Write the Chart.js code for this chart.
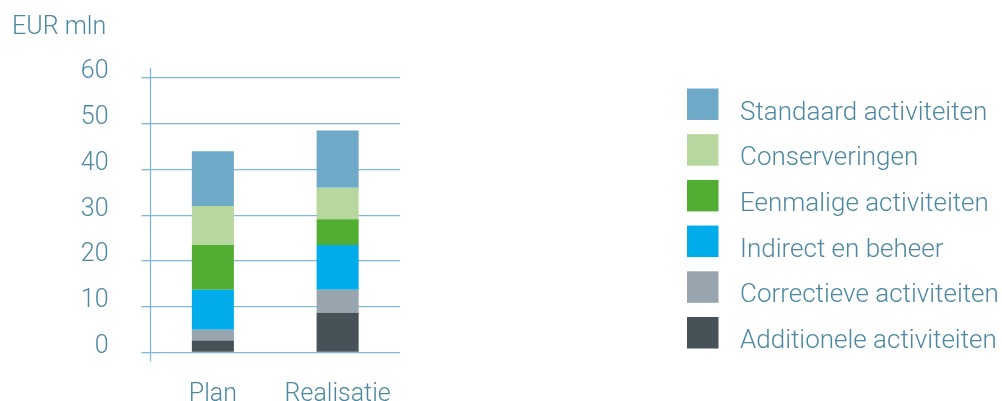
<!DOCTYPE html>
<html>
<head>
<meta charset="utf-8">
<script src="https://cdn.jsdelivr.net/npm/chart.js@4"></script>
<style>
html,body{margin:0;padding:0;background:#fff;}
#wrap{width:1002px;height:401px;position:relative;}
</style>
</head>
<body>
<div id="wrap"><canvas id="c" width="1002" height="401"></canvas></div>
<script>
const categories = ['Plan', 'Realisatie'];
const seriesNames = ['Additionele activiteiten', 'Correctieve activiteiten', 'Indirect en beheer', 'Eenmalige activiteiten', 'Conserveringen', 'Standaard activiteiten'];
const additionele = [2.6, 8.7];
const correctieve = [2.4, 5.0];
const indirect = [8.7, 9.8];
const eenmalige = [9.8, 5.6];
const conserveringen = [8.5, 6.9];
const standaard = [12.0, 12.5];
const yTicks = [0, 10, 20, 30, 40, 50, 60];
const unitLabel = 'EUR mln';

const colors = ['#475158', '#98a5ae', '#00acea', '#52ae32', '#b8d79e', '#6eaac8'];
const values = [additionele, correctieve, indirect, eenmalige, conserveringen, standaard];
const TEXT = '#4d88a2';
const GRID = '#80b8d5';
const FONT = 'Roboto, "Liberation Sans", sans-serif';

const axisLine = {
  id: 'axisLine',
  beforeDatasetsDraw(chart) {
    const {ctx, chartArea} = chart;
    ctx.save();
    ctx.strokeStyle = GRID;
    ctx.lineWidth = 1.3;
    ctx.beginPath();
    ctx.moveTo(chartArea.left, chartArea.top - 10);
    ctx.lineTo(chartArea.left, chartArea.bottom + 9);
    ctx.stroke();
    ctx.restore();
  }
};

const customLegend = {
  id: 'customLegend',
  afterDraw(chart) {
    const {ctx} = chart;
    const ds = chart.data.datasets.slice().reverse();
    const x0 = 687, y0 = 88.5, row = 45.7, box = 31.5, tx = 740;
    ctx.save();
    ctx.font = '300 26px ' + FONT;
    ctx.textAlign = 'left';
    ctx.textBaseline = 'alphabetic';
    ds.forEach((d, i) => {
      const y = y0 + i * row;
      ctx.fillStyle = d.backgroundColor;
      ctx.fillRect(x0, y, box, box);
      ctx.fillStyle = TEXT;
      ctx.fillText(d.label, tx, y + box - 0.5);
    });
    ctx.restore();
  }
};

new Chart(document.getElementById('c'), {
  type: 'bar',
  data: {
    labels: categories,
    datasets: seriesNames.map((n, i) => ({
      label: n,
      data: values[i],
      backgroundColor: colors[i],
      borderWidth: 0,
      barPercentage: 0.337,
      categoryPercentage: 1
    }))
  },
  options: {
    responsive: false,
    animation: false,
    devicePixelRatio: 1,
    layout: { padding: { left: 12, right: 602, top: 0, bottom: 0 } },
    plugins: {
      legend: { display: false },
      tooltip: { enabled: false },
      title: {
        display: true,
        text: unitLabel,
        align: 'start',
        color: TEXT,
        font: { family: FONT, size: 25, weight: 300 },
        padding: { top: 13, bottom: 35 }
      }
    },
    scales: {
      x: {
        stacked: true,
        grid: { display: false },
        border: { display: false },
        ticks: { color: TEXT, font: { family: FONT, size: 25, weight: 300 }, padding: 19 },
        afterFit(s) { s.height = 48.5; }
      },
      y: {
        stacked: true,
        min: 0,
        max: 60,
        afterBuildTicks(s) { s.ticks = yTicks.map(v => ({ value: v })); },
        border: { display: false },
        grid: { color: GRID, lineWidth: 1.3, tickLength: 9, tickColor: GRID },
        ticks: { color: TEXT, font: { family: FONT, size: 25, weight: 300 }, padding: 33, labelOffset: -6 },
        afterFit(s) { s.width = 138.5; }
      }
    }
  },
  plugins: [axisLine, customLegend]
});
</script>
</body>
</html>
